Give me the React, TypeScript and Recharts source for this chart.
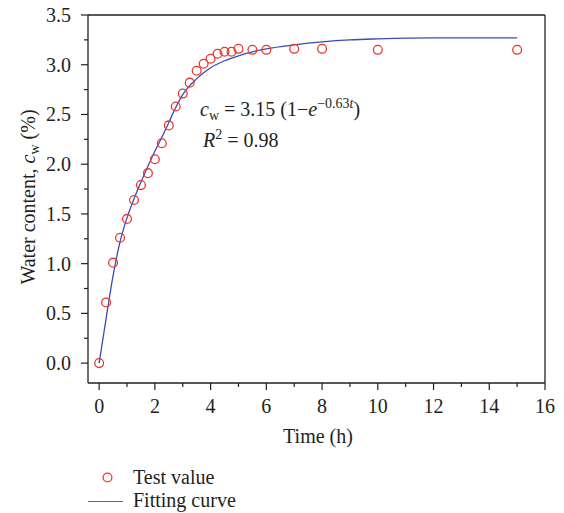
import React from 'react';
import { ComposedChart, Line, Scatter, XAxis, YAxis, ReferenceLine } from 'recharts';

// measured water content (%)
const hours = [0, 0.25, 0.5, 0.75, 1, 1.25, 1.5, 1.75, 2, 2.25, 2.5, 2.75, 3, 3.25, 3.5, 3.75, 4, 4.25, 4.5, 4.75, 5, 5.5, 6, 7, 8, 10, 15];
const measured = [0, 0.61, 1.01, 1.26, 1.45, 1.64, 1.79, 1.91, 2.05, 2.21, 2.39, 2.58, 2.71, 2.82, 2.94, 3.01, 3.06, 3.11, 3.13, 3.13, 3.16, 3.15, 3.15, 3.16, 3.16, 3.15, 3.15];

// fitting curve
const fitHours = [0, 0.25, 0.5, 0.75, 1, 1.25, 1.5, 1.75, 2, 2.25, 2.5, 2.75, 3, 3.5, 4, 4.5, 5, 5.5, 6, 7, 8, 9, 10, 12, 15];
const fitValues = [0, 0.45, 0.88, 1.22, 1.46, 1.65, 1.82, 1.98, 2.13, 2.27, 2.42, 2.57, 2.7, 2.86, 2.97, 3.04, 3.09, 3.13, 3.16, 3.2, 3.23, 3.25, 3.26, 3.27, 3.27];

const xTicks = [0, 1, 2, 3, 4, 5, 6, 7, 8, 9, 10, 11, 12, 13, 14, 15, 16];
const yTicks = [0, 0.25, 0.5, 0.75, 1, 1.25, 1.5, 1.75, 2, 2.25, 2.5, 2.75, 3, 3.25, 3.5];

const RED = '#e8392c';
const BLUE = '#3d4bb5';
const INK = '#231f20';
const FONT = 'Liberation Serif, Times New Roman, serif';

const testData = hours.map((t, i) => ({ t, v: measured[i] }));
const fitData = fitHours.map((t, i) => ({ t, v: fitValues[i] }));

const XTick = (props: any) => {
  const { x, y, payload } = props;
  const major = payload.value % 2 === 0;
  return (
    <g>
      <line x1={x} x2={x} y1={y} y2={y + (major ? 7 : 4)} stroke={INK} strokeWidth={1.2} />
      {major && (
        <text x={x} y={y + 30} textAnchor="middle" fontSize={20} fontFamily={FONT} fill={INK}>
          {payload.value}
        </text>
      )}
    </g>
  );
};

const YTick = (props: any) => {
  const { x, y, payload } = props;
  const major = Math.round(payload.value * 100) % 50 === 0;
  return (
    <g>
      <line x1={x} x2={x - (major ? 7 : 4)} y1={y} y2={y} stroke={INK} strokeWidth={1.2} />
      {major && (
        <text x={x - 17} y={y + 7} textAnchor="end" fontSize={20} fontFamily={FONT} fill={INK}>
          {payload.value.toFixed(1)}
        </text>
      )}
    </g>
  );
};

const Ring = (props: any) => {
  const { cx, cy } = props;
  return <circle cx={cx} cy={cy} r={4.4} fill="none" stroke={RED} strokeWidth={1.3} />;
};

export default function App() {
  return (
    <div style={{ position: 'absolute', left: 0, top: 0, width: 564, height: 513, background: '#fff' }}>
      <ComposedChart width={564} height={513} margin={{ top: 15, right: 19, left: 0, bottom: 70 }}>
        <XAxis
          dataKey="t"
          type="number"
          domain={[-0.4, 16]}
          ticks={xTicks}
          interval={0}
          allowDataOverflow
          height={60}
          tickSize={0}
          tickMargin={0}
          tick={<XTick />}
          axisLine={{ stroke: INK, strokeWidth: 1.3 }}
        />
        <YAxis
          dataKey="v"
          type="number"
          domain={[-0.2, 3.5]}
          ticks={yTicks}
          interval={0}
          allowDataOverflow
          width={88}
          tickSize={0}
          tickMargin={0}
          tick={<YTick />}
          axisLine={{ stroke: INK, strokeWidth: 1.3 }}
        />
        <ReferenceLine y={3.5} stroke={INK} strokeWidth={1.3} />
        <ReferenceLine x={16} stroke={INK} strokeWidth={1.3} />
        <Line
          data={fitData}
          dataKey="v"
          type="monotone"
          stroke={BLUE}
          strokeWidth={1.3}
          dot={false}
          activeDot={false}
          isAnimationActive={false}
        />
        <Scatter data={testData} dataKey="v" shape={<Ring />} isAnimationActive={false} />
      </ComposedChart>
      <svg width={564} height={513} style={{ position: 'absolute', left: 0, top: 0, pointerEvents: 'none' }}>
        <g fontFamily={FONT} fill={INK} fontSize={20}>
          <text transform="translate(35,197) rotate(-90)" textAnchor="middle">
            <tspan>Water content, </tspan>
            <tspan fontStyle="italic">c</tspan>
            <tspan fontSize={14} dy={4}>w</tspan>
            <tspan dy={-4}> (%)</tspan>
          </text>
          <text x={318} y={443} textAnchor="middle">Time (h)</text>

          <text x={200} y={116}>
            <tspan fontStyle="italic">c</tspan>
            <tspan fontSize={14} dy={4}>w</tspan>
            <tspan dy={-4}> = 3.15 (1−</tspan>
            <tspan fontStyle="italic">e</tspan>
            <tspan fontSize={14} dy={-8}>−0.63</tspan>
            <tspan fontSize={14} fontStyle="italic">t</tspan>
            <tspan dy={8}>)</tspan>
          </text>
          <text x={203} y={147}>
            <tspan fontStyle="italic">R</tspan>
            <tspan fontSize={14} dy={-8}>2</tspan>
            <tspan dy={8}> = 0.98</tspan>
          </text>

          <circle cx={107.5} cy={477.5} r={4.4} fill="none" stroke={RED} strokeWidth={1.3} />
          <text x={133} y={484}>Test value</text>
          <line x1={88} x2={123} y1={501.5} y2={501.5} stroke="#5560c0" strokeWidth={1.2} />
          <text x={133} y={507}>Fitting curve</text>
        </g>
      </svg>
    </div>
  );
}
